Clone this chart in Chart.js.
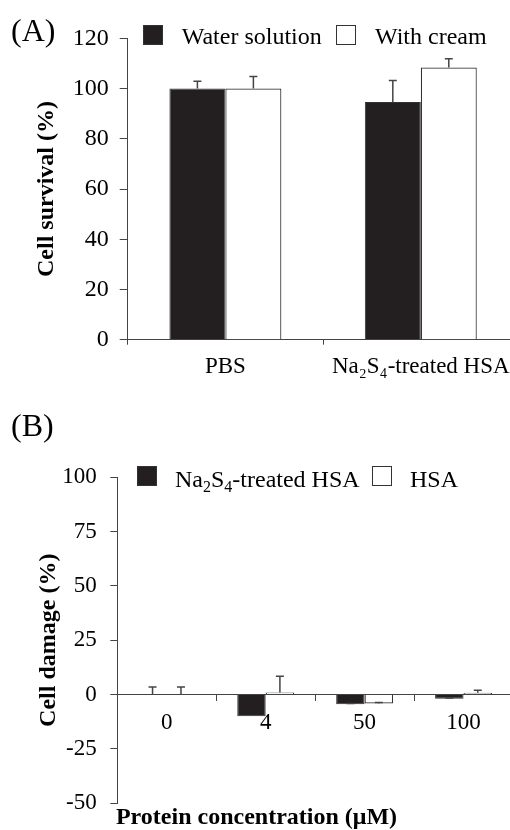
<!DOCTYPE html>
<html><head><meta charset="utf-8">
<script src="https://cdn.jsdelivr.net/npm/chart.js@4.4.1/dist/chart.umd.min.js"></script>
<style>
html,body{margin:0;padding:0;background:#fff;width:510px;height:830px;overflow:hidden;position:relative;font-family:"Liberation Serif","Times New Roman",serif;}
canvas{position:absolute;left:0;}
.t{position:absolute;white-space:nowrap;font-size:24px;line-height:24px;color:#000;}
.p{position:absolute;white-space:nowrap;font-size:32px;line-height:32px;color:#000;}
.box{position:absolute;width:20px;height:20px;box-sizing:border-box;border:1.2px solid #333;}
sub{font-size:16px;vertical-align:-5px;line-height:0;}
</style></head><body>
<canvas id="cA" width="530" height="385" style="top:0"></canvas>
<canvas id="cB" width="530" height="432" style="top:400px"></canvas>

<div class="p" style="left:11px;top:14px">(A)</div>
<div class="box" style="left:143px;top:25px;background:#231f20"></div>
<div class="t" style="left:181.7px;top:24px">Water solution</div>
<div class="box" style="left:335.7px;top:25px;background:#fff"></div>
<div class="t" style="left:375px;top:24px">With cream</div>

<div class="p" style="left:11px;top:409px">(B)</div>
<div class="box" style="left:136.7px;top:465.7px;background:#231f20"></div>
<div class="t" style="left:175px;top:466.5px">Na<sub>2</sub>S<sub>4</sub>-treated HSA</div>
<div class="box" style="left:371.7px;top:465.7px;background:#fff"></div>
<div class="t" style="left:410px;top:466.5px">HSA</div>

<script>
// ---- Panel A data ----
const categoriesA = ['PBS', 'Na\u2082S\u2084-treated HSA'];
const waterSolution = [100, 94.6];
const waterSolutionErr = [2.9, 8.6];
const withCream = [100, 108.4];
const withCreamErr = [4.8, 3.5];

// ---- Panel B data ----
const concentrations = ['0', '4', '50', '100'];
const treatedHSA = [0, -10, -4.4, -1.9];
const treatedHSAErr = [3.5, 0, 0.3, 0.3];
const plainHSA = [0, 0.9, -4.1, 0.8];
const plainHSAErr = [3.5, 7.5, 0.4, 1.2];

const FAM = '"Liberation Serif","Times New Roman",serif';
const AXIS = '#444';
const DARK = '#231f20';

const errorBars = {
  id: 'errorBars',
  afterDatasetsDraw(chart) {
    const ctx = chart.ctx, y = chart.scales.y;
    ctx.save();
    ctx.strokeStyle = AXIS;
    ctx.lineWidth = 1.5;
    chart.data.datasets.forEach((ds, i) => {
      const meta = chart.getDatasetMeta(i);
      meta.data.forEach((bar, j) => {
        const e = ds.errors[j];
        if (!e) return;
        const v = ds.data[j];
        const y0 = y.getPixelForValue(v), y1 = y.getPixelForValue(v + e);
        ctx.beginPath();
        ctx.moveTo(bar.x, y0); ctx.lineTo(bar.x, y1);
        ctx.moveTo(bar.x - 4, y1); ctx.lineTo(bar.x + 4, y1);
        ctx.stroke();
      });
    });
    ctx.restore();
  }
};

new Chart(document.getElementById('cA'), {
  type: 'bar',
  data: {
    labels: categoriesA,
    datasets: [
      { label: 'Water solution', data: waterSolution, errors: waterSolutionErr,
        backgroundColor: DARK, borderColor: '#333', borderWidth: 1 },
      { label: 'With cream', data: withCream, errors: withCreamErr,
        backgroundColor: '#fff', borderColor: '#333', borderWidth: 1.2 }
    ]
  },
  options: {
    responsive: false, animation: false, devicePixelRatio: 1, events: [],
    layout: { padding: { top: 38.3, right: 11.5, left: 0, bottom: 0 } },
    plugins: { legend: { display: false }, tooltip: { enabled: false } },
    datasets: { bar: { barPercentage: 1, categoryPercentage: 0.573 } },
    scales: {
      x: {
        grid: { drawOnChartArea: false, tickLength: 5, color: AXIS, offset: true },
        border: { color: AXIS, width: 1 },
        ticks: { font: { family: FAM, size: 23 }, color: '#000', padding: 8, maxRotation: 0, autoSkip: false },
        afterFit(s) { s.height = 45.3; }
      },
      y: {
        min: 0, max: 120,
        ticks: { stepSize: 20, font: { family: FAM, size: 24 }, color: '#000', padding: 11 },
        grid: { drawOnChartArea: false, tickLength: 8, color: AXIS },
        border: { color: AXIS, width: 1 },
        title: { display: true, text: 'Cell survival (%)', color: '#000',
          font: { family: FAM, size: 24, weight: 'bold' }, padding: { top: 32.3, bottom: 0 } },
        afterFit(s) { s.width = 127.7; }
      }
    }
  },
  plugins: [errorBars]
});

new Chart(document.getElementById('cB'), {
  type: 'bar',
  data: {
    labels: concentrations,
    datasets: [
      { label: 'Na\u2082S\u2084-treated HSA', data: treatedHSA, errors: treatedHSAErr,
        backgroundColor: DARK, borderColor: '#333', borderWidth: 1 },
      { label: 'HSA', data: plainHSA, errors: plainHSAErr,
        backgroundColor: '#fff', borderColor: '#333', borderWidth: 1.2 }
    ]
  },
  options: {
    responsive: false, animation: false, devicePixelRatio: 1, events: [],
    layout: { padding: { top: 77.3, right: 17, left: 0, bottom: 0 } },
    plugins: {
      legend: { display: false }, tooltip: { enabled: false },
      title: { display: true, position: 'bottom', text: 'Protein concentration (\u03bcM)', color: '#000',
        font: { family: FAM, size: 24, weight: 'bold' }, padding: 0 }
    },
    datasets: { bar: { barPercentage: 1, categoryPercentage: 0.575 } },
    scales: {
      x: {
        position: { y: 0 },
        grid: { drawOnChartArea: false, tickLength: 6, color: AXIS, offset: true },
        border: { color: AXIS, width: 1 },
        ticks: { font: { family: FAM, size: 23 }, color: '#000', padding: 8.2, maxRotation: 0, autoSkip: false },
        afterFit(s) { s.height = 1.5; }
      },
      y: {
        min: -50, max: 100,
        ticks: { stepSize: 25, font: { family: FAM, size: 23 }, color: '#000', padding: 13.6 },
        grid: { drawOnChartArea: false, tickLength: 7, color: AXIS },
        border: { color: AXIS, width: 1 },
        title: { display: true, text: 'Cell damage (%)', color: '#000',
          font: { family: FAM, size: 24, weight: 'bold' }, padding: { top: 33.9, bottom: 0 } },
        afterFit(s) { s.width = 117.3; }
      }
    }
  },
  plugins: [errorBars]
});
</script>
</body></html>
